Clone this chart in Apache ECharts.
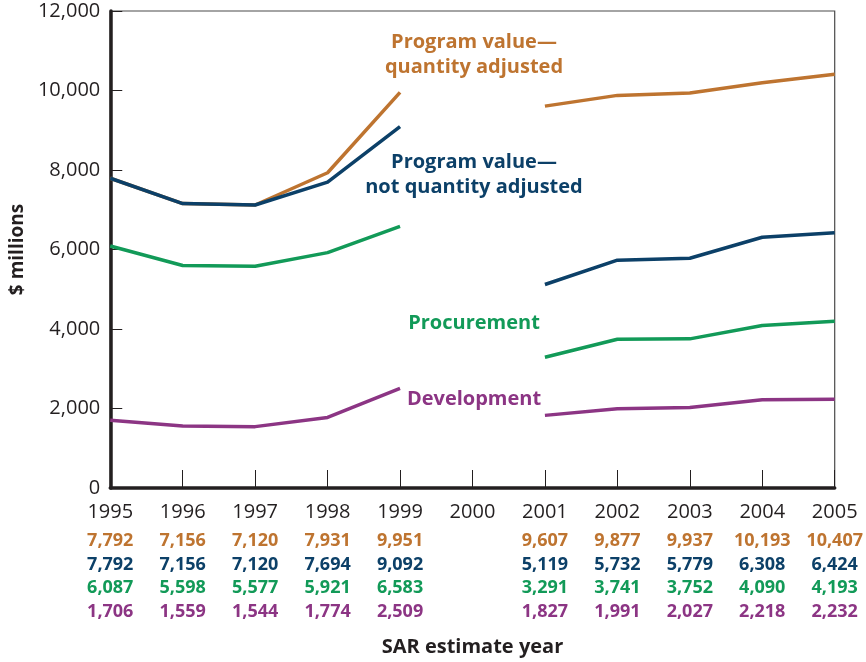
<!DOCTYPE html>
<html>
<head>
<meta charset="utf-8">
<script src="https://cdn.jsdelivr.net/npm/echarts@6/dist/echarts.min.js"></script>
<style>
html,body{margin:0;padding:0;background:#fff;}
#chart{width:866px;height:662px;}
</style>
</head>
<body>
<div id="chart"></div>
<script>
var years = ['1995','1996','1997','1998','1999','2000','2001','2002','2003','2004','2005'];
var quantityAdjusted = [7792, 7156, 7120, 7931, 9951, null, 9607, 9877, 9937, 10193, 10407];
var notQuantityAdjusted = [7792, 7156, 7120, 7694, 9092, null, 5119, 5732, 5779, 6308, 6424];
var procurement = [6087, 5598, 5577, 5921, 6583, null, 3291, 3741, 3752, 4090, 4193];
var development = [1706, 1559, 1544, 1774, 2509, null, 1827, 1991, 2027, 2218, 2232];
var yTicks = [0, 2000, 4000, 6000, 8000, 10000, 12000];

var C_OR = '#BE7430', C_BL = '#0C4068', C_GR = '#129A58', C_PU = '#8C3584', C_TX = '#231F20';
var FONT = '"Open Sans", "Noto Sans", sans-serif';

function fmt(v){ return String(v).replace(/\B(?=(\d{3})+(?!\d))/g, ','); }

var chart = echarts.init(document.getElementById('chart'), null, {renderer:'canvas'});

function lineSeries(name, data, color){
  return {
    name: name, type: 'line', data: data, connectNulls: false,
    showSymbol: false, symbol: 'none', animation: false,
    lineStyle: {color: color, width: 3.5, cap: 'butt', join: 'round'},
    itemStyle: {color: color}
  };
}

var option = {
  animation: false,
  grid: {left: 108, right: 30, top: 11, bottom: 173, show: true, borderColor: '#4a4a4a', borderWidth: 1.2},
  xAxis: {
    type: 'category', data: years, boundaryGap: false,
    name: 'SAR estimate year', nameLocation: 'middle', nameGap: 149,
    nameTextStyle: {fontFamily: FONT, fontWeight: 'bold', fontSize: 20, color: C_TX},
    axisLine: {show: true, onZero: false, lineStyle: {color: C_TX, width: 3.5}},
    axisTick: {show: true, inside: true, length: 18, interval: 0, alignWithLabel: true, lineStyle: {color: C_TX, width: 1}},
    axisLabel: {
      interval: 0, margin: 7, fontFamily: FONT, color: C_TX,
      formatter: function(val, idx){
        var i = years.indexOf(val);
        var s = '{yr|' + val + '}';
        if (quantityAdjusted[i] != null) {
          s += '\n{o|' + fmt(quantityAdjusted[i]) + '}' +
               '\n{b|' + fmt(notQuantityAdjusted[i]) + '}' +
               '\n{g|' + fmt(procurement[i]) + '}' +
               '\n{p|' + fmt(development[i]) + '}';
        }
        return s;
      },
      rich: {
        yr: {fontFamily: FONT, fontSize: 20, color: C_TX, lineHeight: 34, align: 'center'},
        o: {fontFamily: FONT, fontSize: 18, fontWeight: 'bold', color: C_OR, lineHeight: 23.7, align: 'center'},
        b: {fontFamily: FONT, fontSize: 18, fontWeight: 'bold', color: C_BL, lineHeight: 23.7, align: 'center'},
        g: {fontFamily: FONT, fontSize: 18, fontWeight: 'bold', color: C_GR, lineHeight: 23.7, align: 'center'},
        p: {fontFamily: FONT, fontSize: 18, fontWeight: 'bold', color: C_PU, lineHeight: 23.7, align: 'center'}
      }
    },
    splitLine: {show: false}
  },
  yAxis: {
    type: 'value', min: yTicks[0], max: yTicks[yTicks.length-1], interval: 2000,
    name: '$ millions', nameLocation: 'middle', nameGap: 82,
    nameTextStyle: {fontFamily: FONT, fontWeight: 'bold', fontSize: 19, color: C_TX},
    axisLine: {show: true, lineStyle: {color: C_TX, width: 3.5}},
    axisTick: {show: true, inside: true, length: 12, lineStyle: {color: C_TX, width: 1}},
    axisLabel: {margin: 10, fontFamily: FONT, fontSize: 20, color: C_TX, formatter: function(v){ return fmt(v); }},
    splitLine: {show: false}
  },
  series: [
    lineSeries('Development', development, C_PU),
    lineSeries('Procurement', procurement, C_GR),
    lineSeries('Program value—quantity adjusted', quantityAdjusted, C_OR),
    lineSeries('Program value—not quantity adjusted', notQuantityAdjusted, C_BL)
  ],
  graphic: [
    {type: 'text', x: 474, y: 55, style: {text: 'Program value—\nquantity adjusted', fill: C_OR, font: 'bold 20px ' + FONT, textAlign: 'center', textVerticalAlign: 'middle', lineHeight: 25}},
    {type: 'text', x: 474, y: 175, style: {text: 'Program value—\nnot quantity adjusted', fill: C_BL, font: 'bold 20px ' + FONT, textAlign: 'center', textVerticalAlign: 'middle', lineHeight: 25}},
    {type: 'text', x: 474, y: 323, style: {text: 'Procurement', fill: C_GR, font: 'bold 20px ' + FONT, textAlign: 'center', textVerticalAlign: 'middle'}},
    {type: 'text', x: 474, y: 399, style: {text: 'Development', fill: C_PU, font: 'bold 20px ' + FONT, textAlign: 'center', textVerticalAlign: 'middle'}}
  ]
};
chart.setOption(option);
</script>
</body>
</html>
